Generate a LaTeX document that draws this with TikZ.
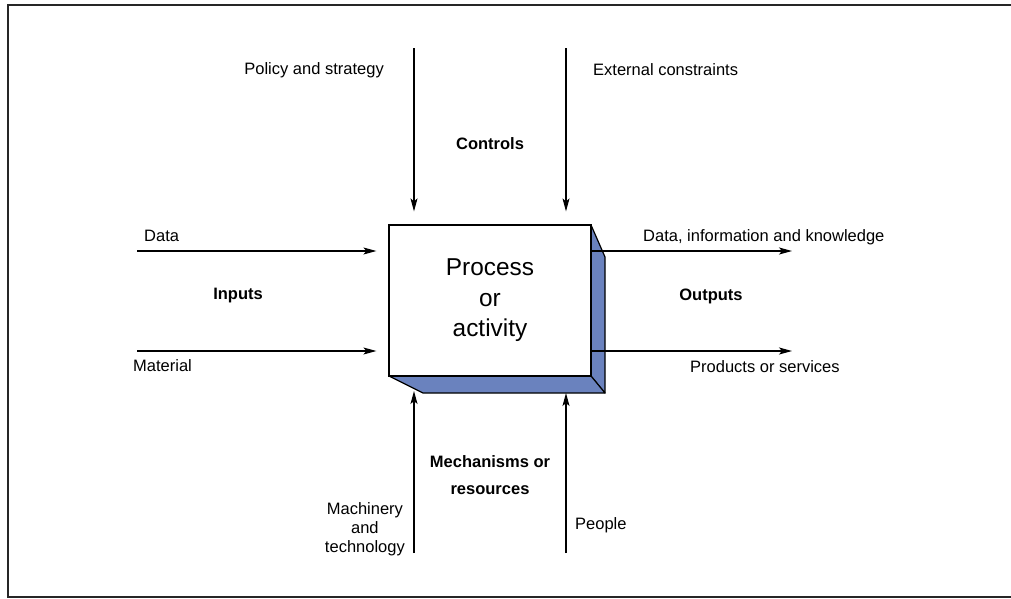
\documentclass[tikz,border=0pt]{standalone}
\usepackage{fontspec}
\setmainfont{Liberation Sans}
\usetikzlibrary{arrows.meta}
\definecolor{sideblue}{RGB}{106,130,190}
\begin{document}
\begin{tikzpicture}[x=1pt,y=-1pt,
  conn/.style={line width=1.2pt,-{Stealth[length=13pt,width=7pt,inset=3pt]}},
  lbl/.style={inner sep=0pt,font=\fontsize{16.5}{19}\selectfont},
  blbl/.style={inner sep=0pt,font=\fontsize{16.5}{27}\selectfont\bfseries},
  facestyle/.style={draw=black,line width=1.2pt,line join=round}]
\useasboundingbox (0,0) rectangle (1011,598);
% frame
\draw[line width=2.6pt,black!85] (1011,5) -- (8,5) -- (8,597) -- (1011,597);
% extrusion faces
\filldraw[facestyle,fill=sideblue] (591,225) -- (605,257) -- (605,393) -- (591,376) -- cycle;
\filldraw[facestyle,fill=sideblue] (389,376) -- (591,376) -- (605,393) -- (423,393) -- cycle;
% main box
\node[draw,line width=1.2pt,fill=white,minimum width=202pt,minimum height=151pt,inner sep=0pt,
  align=center,font=\fontsize{24.4}{30.5}\selectfont] (box) at (490,300.5) {Process\\or\\activity};
% labels
\node[lbl,anchor=east] (pol) at (384,70) {Policy and strategy};
\node[lbl,anchor=west] (ext) at (593,70) {External constraints};
\node[blbl] (ctl) at (490,144) {Controls};
\node[lbl,anchor=west] (data) at (144,236) {Data};
\node[blbl] (inp) at (238,296) {Inputs};
\node[lbl,anchor=west] (mat) at (133,366) {Material};
\node[lbl,anchor=west] (dik) at (643,237) {Data, information and knowledge};
\node[blbl] (outp) at (711,296) {Outputs};
\node[lbl,anchor=west] (prod) at (690,367) {Products or services};
\node[blbl,align=center] (mech) at (490,475) {Mechanisms or\\resources};
\node[lbl,align=center,anchor=east] (mach) at (405,529) {Machinery\\and\\technology};
\node[lbl,anchor=west] (ppl) at (575,525) {People};
% connector ends
\coordinate (c1) at (414,48);
\coordinate (c2) at (566,48);
\coordinate (i1) at (137,251);
\coordinate (i2) at (137,351);
\coordinate (o1) at (792,251);
\coordinate (o2) at (792,351);
\coordinate (m1) at (414,553);
\coordinate (m2) at (566,553);
\coordinate (m1e) at (414,391);
\coordinate (m2e) at (566,393);
% connectors
\draw[conn,shorten >=13pt] (c1) -- (c1 |- box.north);
\draw[conn,shorten >=13pt] (c2) -- (c2 |- box.north);
\draw[conn,shorten >=12pt] (i1) -- (i1 -| box.west);
\draw[conn,shorten >=12pt] (i2) -- (i2 -| box.west);
\draw[conn] (o1 -| box.east) -- (o1);
\draw[conn] (o2 -| box.east) -- (o2);
\draw[conn] (m1) -- (m1e);
\draw[conn] (m2) -- (m2e);
\end{tikzpicture}
\end{document}
